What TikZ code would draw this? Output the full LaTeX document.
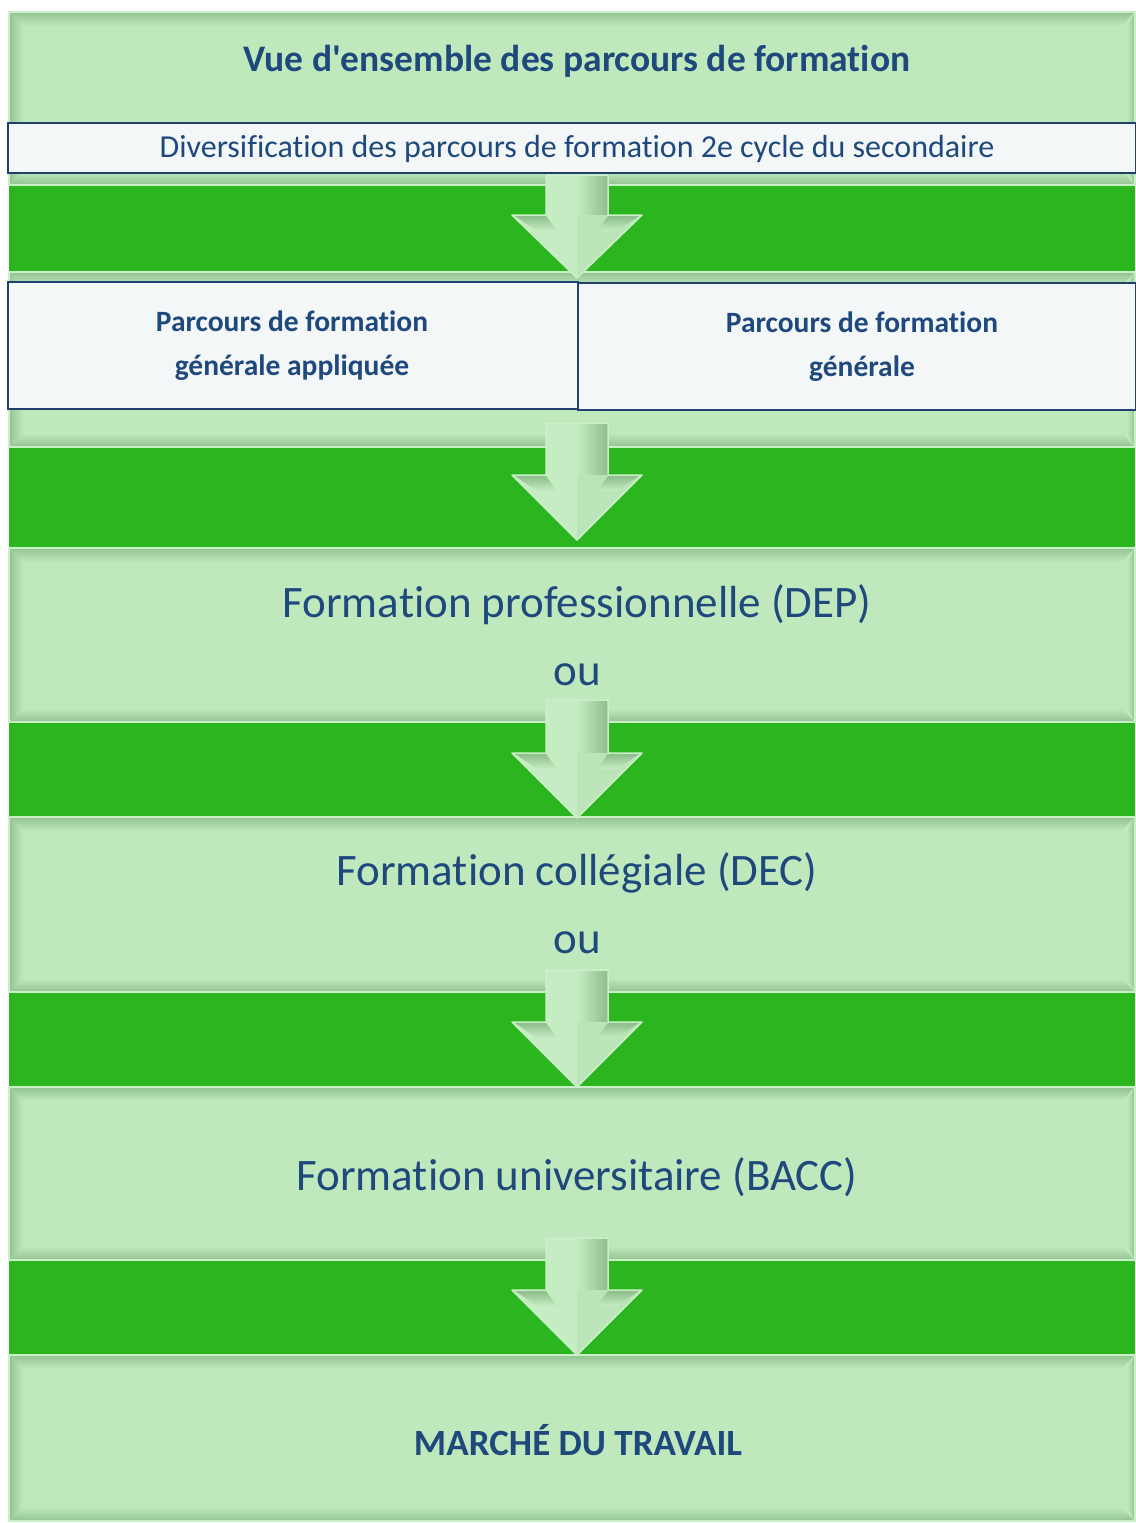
\documentclass[tikz,border=0pt]{standalone}
\usepackage{fontspec}
\setmainfont{Carlito}[Ligatures=NoCommon]
\newfontfamily\plainqfont{Carlito}[Ligatures=NoCommon]
\newcommand\straightq{{\plainqfont\bfseries\char39}}
\definecolor{pale}{HTML}{BFE9BC}
\definecolor{paleL}{HTML}{CBEFC8}
\definecolor{bevd}{HTML}{93C391}
\definecolor{band}{HTML}{2BB620}
\definecolor{bandedge}{HTML}{62B45C}
\definecolor{navy}{HTML}{1F497D}
\definecolor{boxline}{HTML}{22406E}
\definecolor{boxfill}{HTML}{F3F7F7}
\definecolor{arrL}{HTML}{C6ECC3}
\definecolor{arrD}{HTML}{8DBE8B}
\tikzset{
  whitebox/.style={draw=boxline, line width=2pt, fill=boxfill, inner sep=0pt, anchor=north west},
  lbl/.style={text=navy, inner sep=0pt, align=center},
  bigtxt/.style={lbl, font=\fontsize{45}{52}\selectfont},
  boldtxt/.style={lbl, font=\fontsize{29.5}{44}\selectfont\bfseries},
}
\newcommand\pbox[4]{%
  \fill[pale] (#1,#2) rectangle (#3,#4);
  \shade[top color=bevd, bottom color=pale] (#1,#2)--(#3,#2)--(#3-14,#2+14)--(#1+14,#2+14)--cycle;
  \shade[top color=pale, bottom color=bevd] (#1,#4)--(#3,#4)--(#3-14,#4-14)--(#1+14,#4-14)--cycle;
  \shade[left color=bevd, right color=pale] (#1,#2)--(#1+14,#2+14)--(#1+14,#4-14)--(#1,#4)--cycle;
  \shade[left color=pale, right color=bevd] (#3,#2)--(#3-8,#2+14)--(#3-8,#4-14)--(#3,#4)--cycle;
  \draw[paleL, line width=1.2pt] (#1,#2) rectangle (#3,#4);
}
\newcommand\dnarrow[4]{% cx, top, head, tip
  \fill[arrL] (#1-31,#2)--(#1,#2)--(#1,#4)--(#1-65,#3)--(#1-31,#3)--cycle;
  \shade[left color=arrL, right color=arrD] (#1,#2)--(#1+31,#2)--(#1+31,#3)--(#1,#3)--cycle;
  \fill[pale!92!arrD] (#1,#3)--(#1+65,#3)--(#1,#4)--cycle;
  \shade[top color=arrD, bottom color=arrL] (#1-62,#3+1)--(#1-31,#3+1)--(#1-20,#3+16)--(#1-40,#3+16)--cycle;
  \shade[top color=arrD, bottom color=arrL] (#1+62,#3+1)--(#1+31,#3+1)--(#1+20,#3+16)--(#1+40,#3+16)--cycle;
  \draw[paleL, line width=1.5pt, line join=round] (#1-31,#2)--(#1+31,#2)--(#1+31,#3)--(#1+65,#3)--(#1,#4)--(#1-65,#3)--(#1-31,#3)--cycle;
}
\begin{document}
\begin{tikzpicture}[x=1pt, y=-1pt]
\useasboundingbox[fill=white] (0,0) rectangle (1135,1523);
% green bands
\foreach \a/\b in {185/272, 447/548, 722/817, 992/1087, 1260/1355}{
  \fill[band] (9,\a) rectangle (1135,\b);
  \draw[bandedge, line width=1.5pt] (9,\a) -- (1135,\a) (9,\b) -- (1135,\b);
}
% pale panels
\pbox{9}{12}{1135}{185}
\pbox{9}{272}{1135}{447}
\pbox{9}{548}{1135}{722}
\pbox{9}{817}{1135}{992}
\pbox{9}{1087}{1135}{1260}
\pbox{9}{1355}{1135}{1521}
% white boxes
\node[whitebox, minimum width=1128pt, minimum height=50pt] (div) at (7,122) {};
\node[whitebox, minimum width=570pt, minimum height=127pt] (gaL) at (7,281) {};
\node[whitebox, minimum width=558pt, minimum height=127pt] (gaR) at (577,282) {};
% arrows
\dnarrow{577}{175}{215}{278}
\dnarrow{577}{423}{475}{540}
\dnarrow{577}{700}{753}{818}
\dnarrow{577}{970}{1022}{1087}
\dnarrow{577}{1238}{1290}{1355}
% texts
\node[lbl, font=\fontsize{37.5}{44}\selectfont\bfseries] (title) at (577,61) {Vue d\straightq ensemble des parcours de formation};
\node[lbl, font=\fontsize{32}{38}\selectfont] (divt) at (577,149) {Diversification des parcours de formation 2e cycle du secondaire};
\node[boldtxt] (gaLt) at (292,346) {Parcours de formation\\générale appliquée};
\node[boldtxt] (gaRt) at (862,347) {Parcours de formation\\générale};
\node[bigtxt] (dep) at (577,605) {Formation professionnelle (DEP)};
\node[bigtxt] (ou1) at (577,675) {ou};
\node[bigtxt] (dec) at (577,873) {Formation collégiale (DEC)};
\node[bigtxt] (ou2) at (577,943) {ou};
\node[bigtxt] (bacc) at (577,1177) {Formation universitaire (BACC)};
\node[lbl, font=\fontsize{37}{44}\selectfont\bfseries] (mt) at (578,1440) {MARCHÉ DU TRAVAIL};
\end{tikzpicture}
\end{document}
